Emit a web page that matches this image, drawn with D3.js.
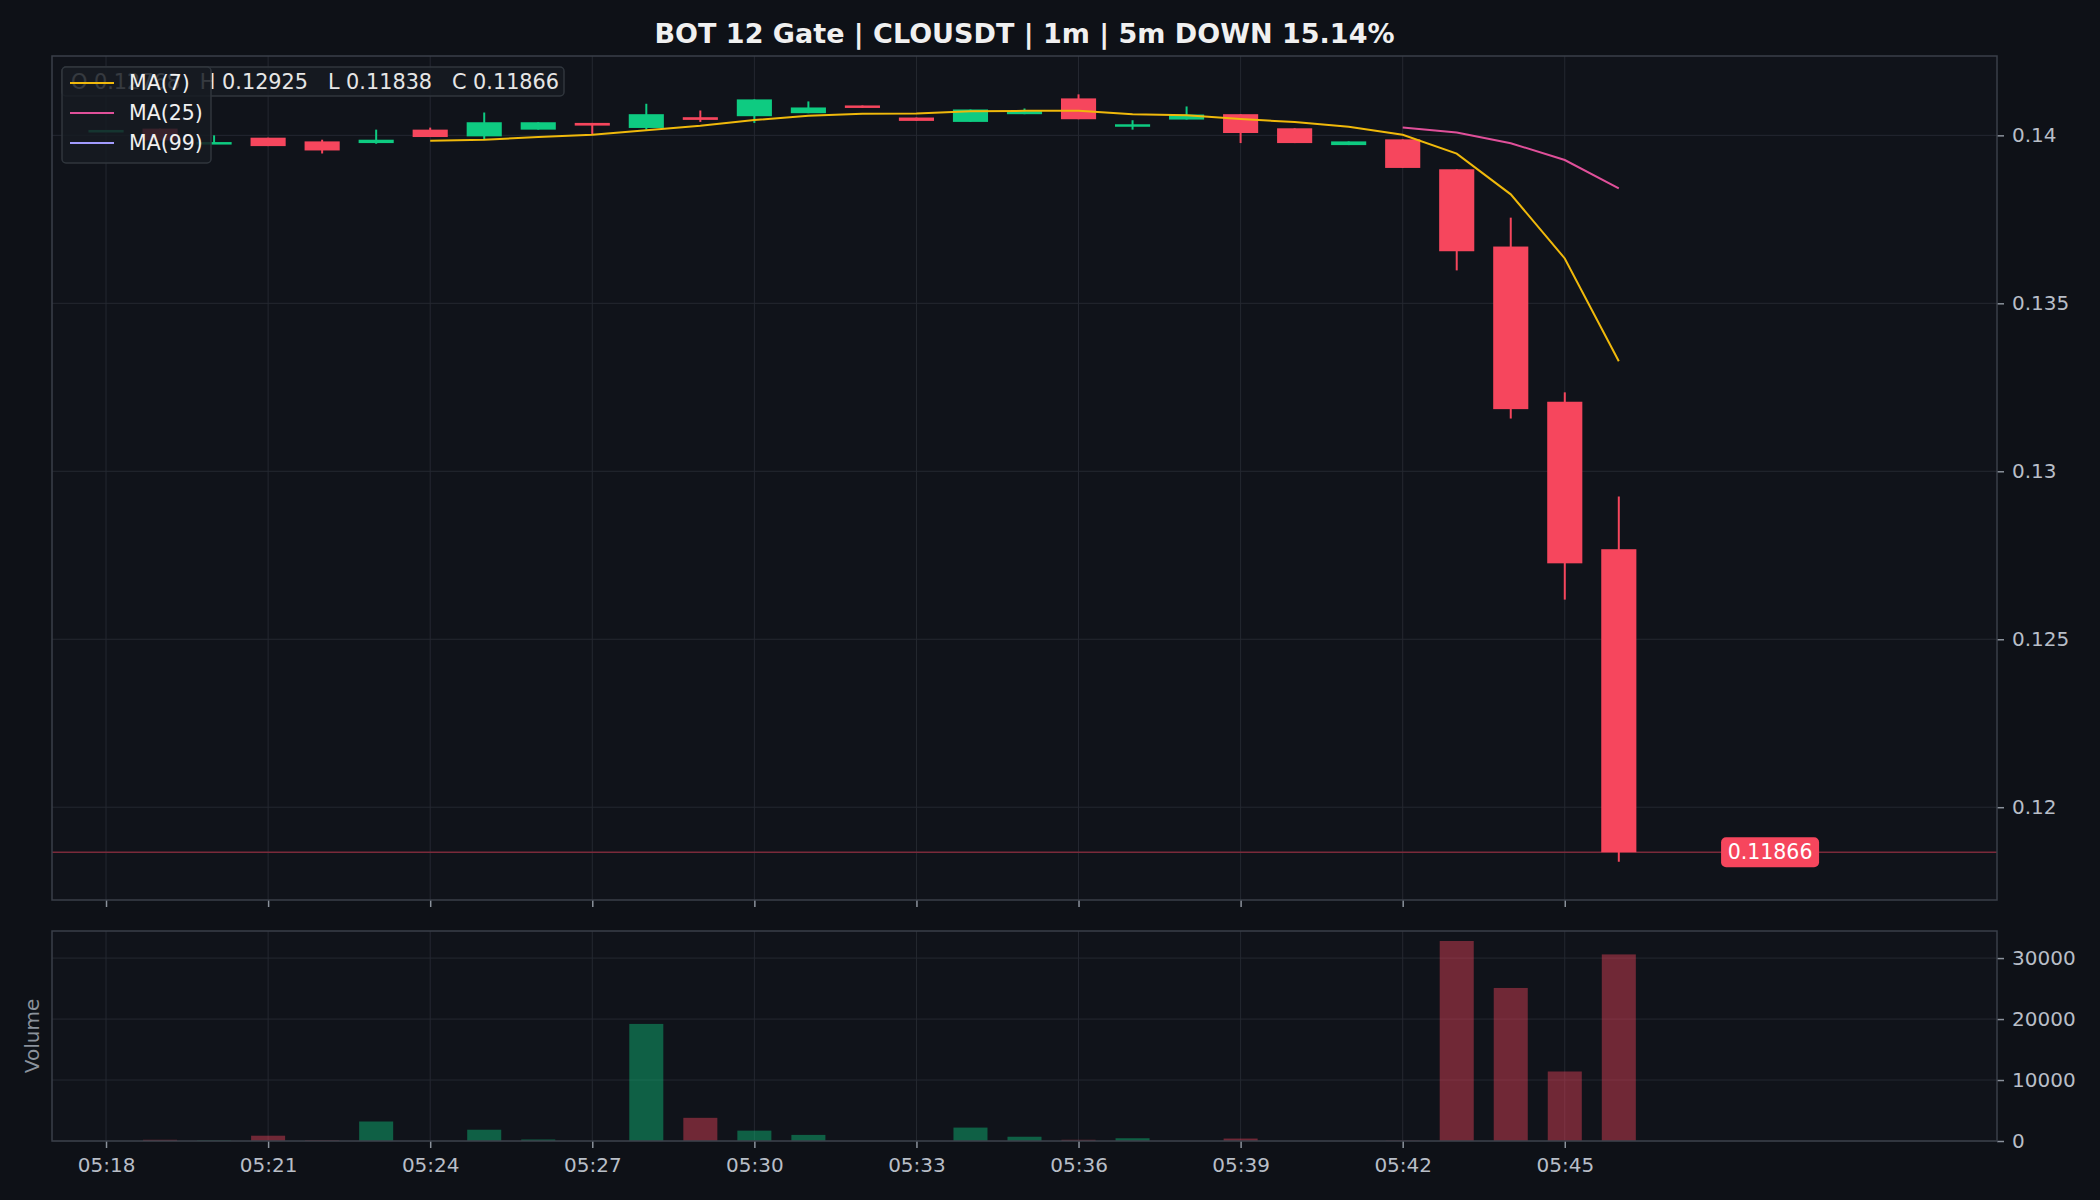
<!DOCTYPE html>
<meta charset='utf-8'>
<style>
  body { margin: 0; background: #0e1117; }
  svg text { font-family: 'DejaVu Sans', sans-serif; }
</style>
<svg width='2100' height='1200'></svg>
<script src='https://cdn.jsdelivr.net/npm/d3@7/dist/d3.min.js'></script>
<script>
  // one candle per minute, 05:18 .. 05:46
  var times = ['05:18','05:19','05:20','05:21','05:22','05:23','05:24','05:25','05:26','05:27',
    '05:28','05:29','05:30','05:31','05:32','05:33','05:34','05:35','05:36','05:37',
    '05:38','05:39','05:40','05:41','05:42','05:43','05:44','05:45','05:46'];
  var opens = [0.14014,0.14020,0.13975,0.13993,0.13982,0.13977,0.14017,0.13997,0.14017,0.14037,
    0.14022,0.14054,0.14057,0.14066,0.14089,0.14053,0.14040,0.14063,0.14110,0.14027,
    0.14047,0.14063,0.14021,0.13971,0.13988,0.13899,0.13669,0.13207,0.12768];
  var highs = [0.14016,0.14020,0.14000,0.13993,0.13987,0.14017,0.14023,0.14068,0.14039,0.14037,
    0.14094,0.14074,0.14107,0.14101,0.14089,0.14053,0.14077,0.14080,0.14122,0.14045,
    0.14086,0.14063,0.14021,0.13982,0.13988,0.13899,0.13755,0.13235,0.12925];
  var lows = [0.14014,0.13985,0.13975,0.13968,0.13946,0.13975,0.13995,0.13989,0.14017,0.14003,
    0.14017,0.14040,0.14037,0.14066,0.14082,0.14043,0.14040,0.14063,0.14048,0.14017,
    0.14047,0.13977,0.13977,0.13971,0.13903,0.13598,0.13157,0.12618,0.11838];
  var closes = [0.14016,0.13985,0.13980,0.13968,0.13955,0.13987,0.13995,0.14039,0.14039,0.14029,
    0.14063,0.14046,0.14107,0.14083,0.14082,0.14043,0.14077,0.14072,0.14048,0.14033,
    0.14062,0.14007,0.13977,0.13982,0.13903,0.13655,0.13185,0.12726,0.11866];
  var volumes = [0,200,80,870,100,3200,0,1850,250,0,
    19200,3800,1700,1000,0,0,2200,700,200,450,
    0,400,0,0,60,32800,25100,11400,30600];

  var xTicks = ['05:18','05:21','05:24','05:27','05:30','05:33','05:36','05:39','05:42','05:45'];
  var priceTicks = [0.12, 0.125, 0.13, 0.135, 0.14];
  var volTicks = [0, 10000, 20000, 30000];
  var maPeriods = [7, 25, 99];
  var maColors = ['#f0b90b', '#e0509a', '#a29bfe'];

  var UP = '#0ecb81', DOWN = '#f6465d';

  var svg = d3.select('svg');
  var parse = d3.timeParse('%H:%M');
  var fmt = d3.timeFormat('%H:%M');

  var candles = times.map(function(t, i) {
    return { t: parse(t), o: opens[i], h: highs[i], l: lows[i], c: closes[i], v: volumes[i] };
  });

  var pLeft = 52, pRight = 1997, pTop = 56, pBottom = 900, vTop = 931, vBottom = 1141;

  var x = d3.scaleTime()
    .domain([d3.timeMinute.offset(candles[0].t, -1), d3.timeMinute.offset(candles[0].t, 35)])
    .range([pLeft, pRight]);
  var lo = d3.min(lows), hi = d3.max(highs), pad = (hi - lo) * 0.05;
  var y = d3.scaleLinear().domain([lo - pad, hi + pad]).range([pBottom, pTop]);
  var yv = d3.scaleLinear().domain([0, d3.max(volumes) * 1.05]).range([vBottom, vTop]);
  var step = x(d3.timeMinute.offset(candles[0].t, 1)) - x(candles[0].t);

  // panels
  svg.append('rect').attr('width', 2100).attr('height', 1200).attr('fill', '#0e1117');
  [[pTop, pBottom], [vTop, vBottom]].forEach(function(p) {
    svg.append('rect').attr('x', pLeft).attr('y', p[0]).attr('width', pRight - pLeft)
      .attr('height', p[1] - p[0]).attr('fill', '#10131a');
  });

  // grid
  var grid = svg.append('g').attr('stroke', '#2a2e37').attr('stroke-width', 1).attr('opacity', 0.8);
  xTicks.forEach(function(t) {
    var gx = x(parse(t));
    grid.append('line').attr('x1', gx).attr('x2', gx).attr('y1', pTop).attr('y2', pBottom);
    grid.append('line').attr('x1', gx).attr('x2', gx).attr('y1', vTop).attr('y2', vBottom);
  });
  priceTicks.forEach(function(p) {
    grid.append('line').attr('x1', pLeft).attr('x2', pRight).attr('y1', y(p)).attr('y2', y(p));
  });
  volTicks.forEach(function(v) {
    grid.append('line').attr('x1', pLeft).attr('x2', pRight).attr('y1', yv(v)).attr('y2', yv(v));
  });

  // last price line
  var last = candles[candles.length - 1];
  svg.append('line').attr('x1', pLeft).attr('x2', pRight)
    .attr('y1', y(last.c)).attr('y2', y(last.c))
    .attr('stroke', '#7a2a3a').attr('stroke-width', 1.5);

  // candles
  var cg = svg.append('g');
  var bodyW = step * 0.65;
  cg.selectAll('line.wick').data(candles).enter().append('line')
    .attr('x1', function(d) { return x(d.t); })
    .attr('x2', function(d) { return x(d.t); })
    .attr('y1', function(d) { return y(d.h); })
    .attr('y2', function(d) { return y(d.l); })
    .attr('stroke', function(d) { return d.c >= d.o ? UP : DOWN; })
    .attr('stroke-width', 2);
  cg.selectAll('rect.body').data(candles).enter().append('rect')
    .attr('x', function(d) { return x(d.t) - bodyW / 2; })
    .attr('width', bodyW)
    .attr('y', function(d) { return y(Math.max(d.o, d.c)); })
    .attr('height', function(d) { return Math.max(2.5, Math.abs(y(d.o) - y(d.c))); })
    .attr('fill', function(d) { return d.c >= d.o ? UP : DOWN; });

  // volume
  var volW = step * 0.63;
  svg.append('g').selectAll('rect').data(candles).enter().append('rect')
    .attr('x', function(d) { return x(d.t) - volW / 2; })
    .attr('width', volW)
    .attr('y', function(d) { return yv(d.v); })
    .attr('height', function(d) { return yv(0) - yv(d.v); })
    .attr('fill', function(d) { return d.c >= d.o ? UP : DOWN; })
    .attr('fill-opacity', 0.42);

  // moving averages of close
  function movingAvg(n) {
    var out = [];
    for (var i = n - 1; i < closes.length; i++) {
      out.push({ t: candles[i].t, v: d3.mean(closes.slice(i - n + 1, i + 1)) });
    }
    return out;
  }
  var line = d3.line().x(function(d) { return x(d.t); }).y(function(d) { return y(d.v); });
  maPeriods.forEach(function(n, k) {
    var pts = movingAvg(n);
    if (pts.length < 2) return;
    svg.append('path').datum(pts).attr('d', line).attr('fill', 'none')
      .attr('stroke', maColors[k]).attr('stroke-width', 2);
  });

  // axes
  function styleAxis(g) {
    g.select('.domain').remove();
    g.selectAll('.tick line').attr('stroke', '#8b929c').attr('stroke-width', 1.5);
    g.selectAll('.tick text').attr('fill', '#b8bec7').attr('font-size', 20)
      .attr('font-family', "'DejaVu Sans', sans-serif");
  }
  svg.append('g').attr('transform', 'translate(' + pRight + ',0)')
    .call(d3.axisRight(y).tickValues(priceTicks).tickSize(7).tickPadding(8).tickFormat(d3.format('')))
    .call(styleAxis);
  svg.append('g').attr('transform', 'translate(' + pRight + ',0)')
    .call(d3.axisRight(yv).tickValues(volTicks).tickSize(7).tickPadding(8).tickFormat(d3.format('d')))
    .call(styleAxis);
  svg.append('g').attr('transform', 'translate(0,' + pBottom + ')')
    .call(d3.axisBottom(x).tickValues(xTicks.map(parse)).tickSize(7).tickFormat(''))
    .call(styleAxis);
  svg.append('g').attr('transform', 'translate(0,' + vBottom + ')')
    .call(d3.axisBottom(x).tickValues(xTicks.map(parse)).tickSize(7).tickPadding(10).tickFormat(fmt))
    .call(styleAxis);

  // spines
  [[pTop, pBottom], [vTop, vBottom]].forEach(function(p) {
    svg.append('rect').attr('x', pLeft).attr('y', p[0]).attr('width', pRight - pLeft)
      .attr('height', p[1] - p[0]).attr('fill', 'none')
      .attr('stroke', '#3a3f49').attr('stroke-width', 1.5);
  });

  // last price tag, a little to the right of the last candle
  var tagX = x(new Date(last.t.getTime() + 2.8 * 60000));
  svg.append('rect').attr('x', tagX - 49).attr('y', y(last.c) - 15).attr('width', 98).attr('height', 30)
    .attr('rx', 5).attr('fill', DOWN);
  svg.append('text').attr('x', tagX).attr('y', y(last.c)).attr('dy', '0.35em')
    .attr('text-anchor', 'middle').attr('fill', '#ffffff').attr('font-size', 20.5)
    .text(d3.format('.5f')(last.c));

  // title + labels
  svg.append('text').attr('x', (pLeft + pRight) / 2).attr('y', 43).attr('text-anchor', 'middle')
    .attr('fill', '#f0f0f0').attr('font-size', 27).attr('font-weight', 'bold')
    .text('BOT 12 Gate | CLOUSDT | 1m | 5m DOWN 15.14%');
  svg.append('text').attr('transform', 'translate(32,1036) rotate(-90)').attr('dy', '0.35em')
    .attr('text-anchor', 'middle').attr('fill', '#8b929c').attr('font-size', 20).text('Volume');

  // OHLC box
  var f5 = d3.format('.5f');
  svg.append('rect').attr('x', 62).attr('y', 67).attr('width', 502).attr('height', 29).attr('rx', 4)
    .attr('fill', '#161b22').attr('fill-opacity', 0.85).attr('stroke', '#30363d').attr('stroke-width', 1.5);
  svg.append('text').attr('x', 71).attr('y', 82).attr('dy', '0.35em').attr('fill', '#e6e6e6')
    .attr('font-size', 20.8).style('white-space', 'pre')
    .text('O ' + f5(last.o) + '   H ' + f5(last.h) + '   L ' + f5(last.l) + '   C ' + f5(last.c));

  // legend
  var lg = svg.append('g');
  lg.append('rect').attr('x', 62).attr('y', 67).attr('width', 149).attr('height', 96).attr('rx', 4)
    .attr('fill', '#161b22').attr('fill-opacity', 0.85).attr('stroke', '#30363d').attr('stroke-width', 1.5);
  maPeriods.forEach(function(n, k) {
    var ly = 83 + k * 30;
    lg.append('line').attr('x1', 70).attr('x2', 114).attr('y1', ly).attr('y2', ly)
      .attr('stroke', maColors[k]).attr('stroke-width', 2);
    lg.append('text').attr('x', 129).attr('y', ly).attr('dy', '0.35em').attr('fill', '#f0f0f0')
      .attr('font-size', 20.5).text('MA(' + n + ')');
  });
</script>
